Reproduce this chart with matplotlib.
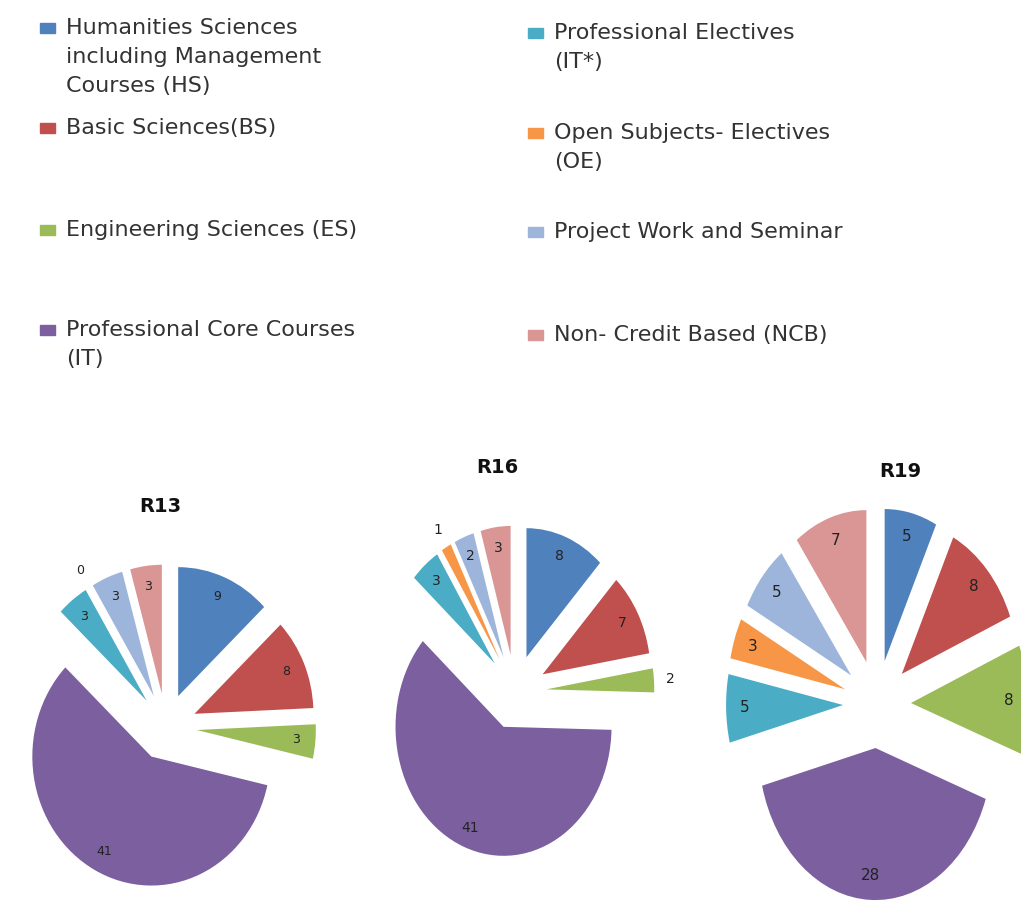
import numpy as np
import matplotlib.pyplot as plt
from matplotlib.patches import Rectangle

legend_labels = [
    "Humanities Sciences\nincluding Management\nCourses (HS)",
    "Basic Sciences(BS)",
    "Engineering Sciences (ES)",
    "Professional Core Courses\n(IT)",
    "Professional Electives\n(IT*)",
    "Open Subjects- Electives\n(OE)",
    "Project Work and Seminar",
    "Non- Credit Based (NCB)",
]
colors = ["#4F81BD", "#C0504D", "#9BBB59", "#7B5F9F",
          "#4BACC6", "#F79646", "#9DB5DA", "#D99694"]

titles = ["R13", "R16", "R19"]
r13 = [9, 8, 3, 41, 3, 0, 3, 3]
r16 = [8, 7, 2, 41, 3, 1, 2, 3]
r19 = [5, 8, 8, 28, 5, 3, 5, 7]

W, H = 1021, 909
fig = plt.figure(figsize=(W / 100, H / 100), dpi=100)


def fx(x):
    return x / W


def fy(y):
    return 1 - y / H


# legend, drawn by hand in two columns
legend_slots = [(40, 28), (40, 128), (40, 230), (40, 330),
                (528, 33), (528, 133), (528, 232), (528, 335)]
for label, color, (x, y) in zip(legend_labels, colors, legend_slots):
    fig.add_artist(Rectangle((fx(x), fy(y + 5)), 15 / W, 10 / H,
                             color=color, transform=fig.transFigure))
    fig.text(fx(x + 26), fy(y - 10), label, fontsize=16, va="top",
             color="#333333", linespacing=1.55)

# pies
pie_values = [r13, r16, r19]
centers = [(166, 727), (515, 692), (877, 704)]
radii = [(119, 129), (108, 129), (117, 152)]
explodes = [[0.26] * 8, [0.29] * 8, [0.29] * 8]
label_sizes = [9, 10, 11]
outside = [[5], [2, 5], []]
title_pos = [(160, 507), (497, 467), (900, 471)]

L = 1.7
for vals, title, (cx, cy), (rx, ry), expl, fs, out, (tx, ty) in zip(
        pie_values, titles, centers, radii, explodes, label_sizes, outside, title_pos):
    ax = fig.add_axes([fx(cx - L * rx), fy(cy + L * ry), 2 * L * rx / W, 2 * L * ry / H])
    total = sum(vals)
    wedges, texts, autotexts = ax.pie(
        vals, colors=colors, startangle=90, counterclock=False, explode=expl,
        autopct=lambda p, t=total: f"{p * t / 100:.0f}", pctdistance=0.84,
        textprops=dict(fontsize=fs, color="#222222"),
        wedgeprops=dict(linewidth=0))
    for i in out:
        w = wedges[i]
        th = np.deg2rad((w.theta1 + w.theta2) / 2)
        wx, wy = w.center
        autotexts[i].set_position((wx + 1.15 * np.cos(th), wy + 1.15 * np.sin(th)))
    ax.set_aspect("auto")
    ax.set_xlim(-L, L)
    ax.set_ylim(-L, L)
    fig.text(fx(tx), fy(ty), title, ha="center", va="center",
             fontsize=14, fontweight="bold", color="#111111")

fig.savefig("out.png", dpi=100)
